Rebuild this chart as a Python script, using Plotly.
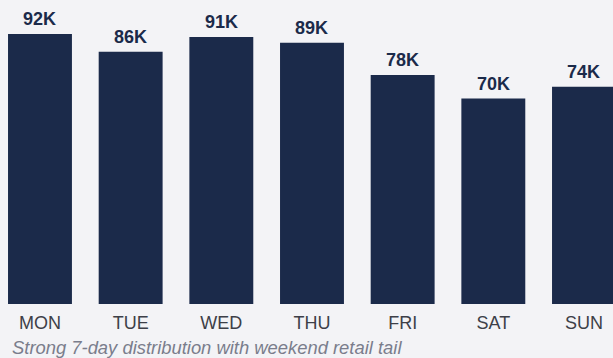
import plotly.graph_objects as go

days = ["MON", "TUE", "WED", "THU", "FRI", "SAT", "SUN"]
visits = [92, 86, 91, 89, 78, 70, 74]
labels = ["92K", "86K", "91K", "89K", "78K", "70K", "74K"]
subtitle = "Strong 7-day distribution with weekend retail tail"

BG = "#f3f3f6"
BAR = "#1b2a4a"
FONT = "Arial, Liberation Sans, sans-serif"

fig = go.Figure(go.Bar(
    x=days, y=visits,
    marker=dict(color=BAR, line=dict(width=0)),
    hoverinfo="skip",
))

for d, v, t in zip(days, visits, labels):
    fig.add_annotation(
        x=d, y=v, text="<b>" + t + "</b>", showarrow=False,
        xanchor="center", yanchor="bottom", yshift=3,
        font=dict(family=FONT, size=18, color=BAR),
    )

fig.add_annotation(
    text="<i>" + subtitle + "</i>", xref="paper", yref="paper",
    x=10 / 613, y=(304 - 347) / 304, xanchor="left", yanchor="middle",
    showarrow=False, font=dict(family=FONT, size=18.4, color="#7a7d8c"),
)

fig.update_layout(
    width=613, height=358,
    margin=dict(l=0, r=0, t=0, b=54),
    paper_bgcolor=BG, plot_bgcolor=BG,
    bargap=0.295, showlegend=False,
    xaxis=dict(range=[-0.441, 6.32], showgrid=False, zeroline=False,
               showline=False, ticks="", fixedrange=True, ticklabelstandoff=6,
               tickfont=dict(family=FONT, size=18, color="#3d3f48")),
    yaxis=dict(range=[0, 103.6], visible=False, fixedrange=True),
)

fig.write_html("out.html", config={"displayModeBar": False})
